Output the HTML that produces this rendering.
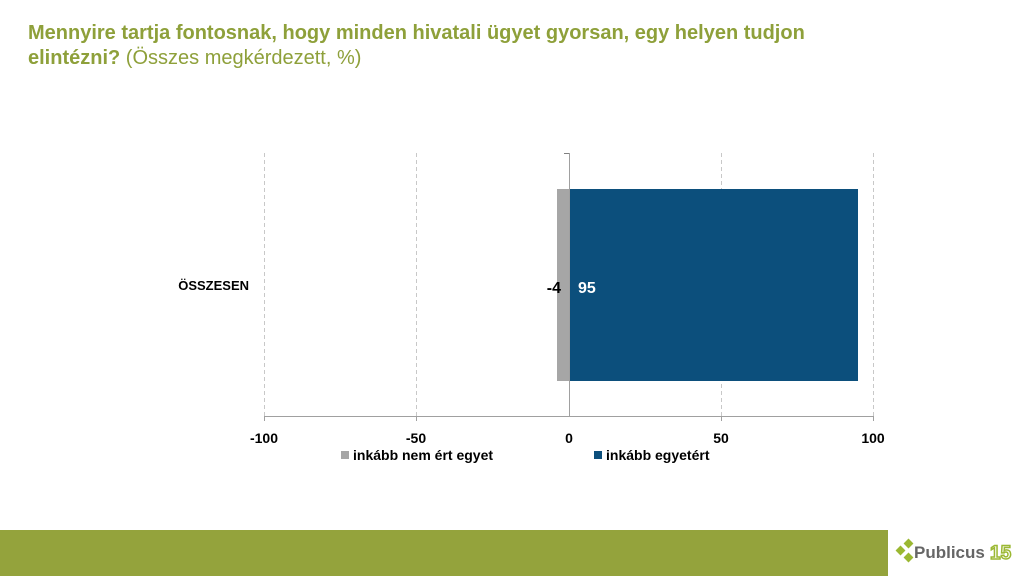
<!DOCTYPE html><html><head><meta charset="utf-8"><style>
body{margin:0;width:1024px;height:576px;overflow:hidden;background:#fff;font-family:"Liberation Sans",sans-serif;position:relative}
.t{position:absolute;left:28px;top:21px;color:#8ea03a;font-size:20px;line-height:25px;font-weight:bold}
.t span{font-weight:normal}
</style></head><body>
<div class="t">Mennyire tartja fontosnak, hogy minden hivatali ügyet gyorsan, egy helyen tudjon<br>elintézni? <span>(Összes megkérdezett, %)</span></div>
<svg width="1024" height="576" style="position:absolute;left:0;top:0" font-family="Liberation Sans, sans-serif">
<g stroke="#c8c8c8" stroke-dasharray="4,3" stroke-width="1">
<line x1="264.5" y1="153" x2="264.5" y2="416"/><line x1="416.5" y1="153" x2="416.5" y2="416"/>
<line x1="721.5" y1="153" x2="721.5" y2="416"/><line x1="873.5" y1="153" x2="873.5" y2="416"/></g>
<rect x="557" y="189" width="12" height="192" fill="#a6a6a6"/>
<rect x="569" y="189" width="289" height="192" fill="#0c4f7c"/>
<line x1="569.5" y1="153" x2="569.5" y2="416" stroke="#a0a0a0"/>
<line x1="564" y1="153.5" x2="569" y2="153.5" stroke="#808080"/>
<line x1="264" y1="416.5" x2="874" y2="416.5" stroke="#a0a0a0"/>
<g stroke="#a0a0a0"><line x1="264.5" y1="416" x2="264.5" y2="421"/><line x1="416.5" y1="416" x2="416.5" y2="421"/><line x1="721.5" y1="416" x2="721.5" y2="421"/><line x1="873.5" y1="416" x2="873.5" y2="421"/></g>
<g font-size="14" font-weight="bold" text-anchor="middle" fill="#000">
<text x="264" y="443">-100</text><text x="416" y="443">-50</text><text x="569" y="443">0</text><text x="721" y="443">50</text><text x="873" y="443">100</text></g>
<text x="249" y="290" text-anchor="end" font-size="13" font-weight="bold">ÖSSZESEN</text>
<text x="561" y="293" text-anchor="end" font-size="16" font-weight="bold">-4</text>
<text x="578" y="293" font-size="16" font-weight="bold" fill="#fff">95</text>
<rect x="341" y="451" width="8" height="8" fill="#a6a6a6"/><text x="353" y="460" font-size="14" font-weight="bold">inkább nem ért egyet</text>
<rect x="594" y="451" width="8" height="8" fill="#0c4f7c"/><text x="606" y="460" font-size="14" font-weight="bold">inkább egyetért</text>
<rect x="0" y="530" width="888" height="46" fill="#94a33c"/>
<g fill="#9bb832"><rect x="897" y="547" width="7" height="7" transform="rotate(45 900.5 550.5)"/><rect x="905" y="540" width="7" height="7" transform="rotate(45 908.5 543.5)"/><rect x="905" y="554" width="7" height="7" transform="rotate(45 908.5 557.5)"/></g>
<text x="914" y="558" font-size="17" font-weight="bold" fill="#666">Publicus</text>
<text x="990" y="559" font-size="19" font-weight="bold" fill="#fff" stroke="#9bb832" stroke-width="1.5">15</text>
</svg>
</body></html>
